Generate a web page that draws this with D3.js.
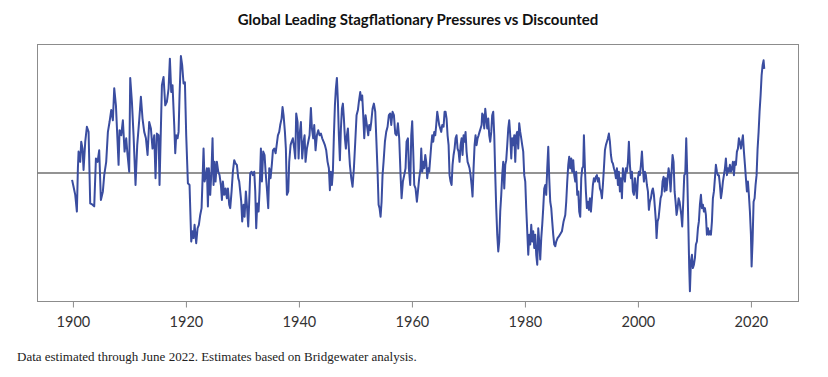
<!DOCTYPE html>
<html>
<head>
<meta charset="utf-8">
<script src="https://cdn.jsdelivr.net/npm/d3@7"></script>
<style>
  body { margin: 0; background: #ffffff; }
  svg { display: block; }
</style>
</head>
<body>
<div id="chart"></div>
<script>
// readings taken off the chart (decimal years, standardised level)
var dates = [
  1899.85,1900.11,1900.41,1900.70,1900.88,1901.00,1901.29,1901.47,1901.70,1901.88,1902.18,1902.47,1902.77,1903.06,1903.47,1903.77,1904.07,1904.36,1904.65,1904.95,
  1905.30,1905.54,1905.89,1906.19,1906.48,1906.78,1907.07,1907.31,1907.61,1907.90,1908.08,1908.25,1908.55,1908.84,1909.14,1909.43,1909.67,1909.96,1910.14,1910.44,
  1910.73,1911.08,1911.38,1911.73,1912.03,1912.32,1912.62,1912.92,1913.21,1913.50,1913.80,1914.09,1914.39,1914.62,1914.86,1915.16,1915.33,
  1915.75,1916.04,1916.34,1916.63,1916.93,1917.16,1917.40,1917.63,1917.93,1918.11,1918.28,1918.52,1918.70,1918.87,1919.11,1919.34,1919.58,1919.82,1920.05,1920.35,
  1920.64,1920.94,1921.17,1921.35,1921.53,1921.82,1922.06,1922.29,1922.53,1922.77,1922.94,1923.12,1923.30,1923.53,1923.71,1923.89,1924.06,1924.30,1924.54,1924.71,
  1924.89,1925.07,1925.24,1925.48,1925.72,1925.95,1926.19,1926.37,1926.54,1926.78,1927.01,1927.25,1927.43,1927.66,1927.84,1928.08,1928.31,1928.55,1928.79,1929.02,
  1929.26,1929.43,1929.61,1929.79,1929.96,1930.20,1930.38,1930.61,1930.79,1931.03,1931.20,1931.38,1931.62,1931.85,1932.09,1932.27,1932.44,1932.62,1932.86,1933.03,
  1933.27,1933.45,1933.68,1933.92,1934.10,1934.33,1934.57,1934.75,1934.98,1935.22,1935.40,1935.63,1935.87,1936.10,1936.28,1936.51,1936.69,1936.93,1937.10,1937.28,
  1937.52,1937.69,1937.87,1938.11,1938.28,1938.52,1938.70,1938.93,1939.17,1939.35,
  1939.52,1939.76,1939.94,1940.11,1940.35,1940.58,1940.82,1941.00,1941.17,1941.41,1941.65,1941.88,1942.12,1942.30,1942.53,1942.71,1942.94,1943.18,1943.42,1943.65,
  1943.89,1944.12,1944.36,1944.60,1944.83,1945.07,1945.30,1945.48,1945.66,1945.84,1946.01,1946.19,1946.37,1946.54,1946.72,1946.90,1947.07,1947.25,1947.43,1947.61,
  1947.78,1947.96,1948.14,1948.31,1948.49,1948.67,1948.84,1949.02,1949.26,1949.49,1949.73,1949.97,1950.20,1950.44,1950.61,1950.85,1951.03,1951.20,1951.38,1951.56,
  1951.79,1952.03,1952.27,1952.44,1952.62,1952.80,1953.03,1953.27,1953.51,1953.74,1953.92,1954.10,1954.27,1954.45,1954.63,1954.80,1954.98,1955.22,1955.45,1955.69,
  1955.92,1956.16,1956.34,1956.57,1956.81,1957.05,1957.28,1957.52,1957.75,1957.99,1958.17,1958.40,1958.64,1958.87,1959.05,1959.29,1959.46,1959.70,1959.88,1960.05,
  1960.23,1960.41,1960.64,1960.88,1961.06,1961.29,1961.53,
  1961.65,1961.82,1962.00,1962.18,1962.36,1962.53,1962.71,1962.89,1963.06,1963.24,1963.42,1963.59,1963.77,1963.95,1964.13,1964.30,1964.48,1964.66,1964.83,1965.01,
  1965.19,1965.36,1965.60,1965.78,1965.95,1966.13,1966.31,1966.49,1966.66,1966.84,1967.02,1967.19,1967.37,1967.55,1967.72,1967.90,1968.08,1968.26,1968.43,1968.61,
  1968.79,1968.96,1969.14,1969.32,1969.49,1969.67,1969.85,1970.03,1970.20,1970.38,1970.56,1970.73,1970.91,1971.09,1971.26,1971.44,1971.62,1971.80,1971.97,1972.15,
  1972.33,1972.44,1972.62,1972.80,1972.98,1973.15,1973.33,1973.51,1973.68,1973.86,1974.04,1974.21,1974.39,1974.57,1974.75,1974.92,1975.10,1975.28,1975.45,1975.63,
  1975.81,1975.98,1976.16,1976.34,1976.52,1976.69,1976.87,1977.05,1977.22,1977.40,1977.58,1977.75,1977.93,1978.11,1978.29,1978.46,1978.64,1978.82,1978.99,1979.17,
  1979.35,1979.52,1979.70,1979.88,1980.06,1980.23,1980.41,1980.59,1980.76,1980.94,1981.12,1981.29,1981.47,1981.65,1981.83,1982.00,1982.18,1982.36,1982.53,1982.71,
  1982.89,1983.06,1983.24,1983.42,1983.60,1983.77,1983.95,1984.13,1984.30,1984.48,1984.66,1984.83,1985.01,1985.19,1985.37,1985.54,1985.78,1986.01,
  1986.55,1986.84,1987.14,1987.31,1987.49,1987.67,1987.84,1988.02,1988.20,1988.37,1988.55,1988.73,1988.91,1989.08,1989.26,1989.44,1989.61,1989.79,1989.97,1990.14,
  1990.32,1990.44,1990.62,1990.79,1990.97,1991.15,1991.32,1991.50,1991.68,1991.86,1992.03,1992.21,1992.39,1992.56,1992.74,1992.92,1993.09,1993.27,1993.45,1993.63,
  1993.80,1993.98,1994.16,1994.33,1994.51,1994.69,1994.86,1995.04,1995.22,1995.40,1995.57,1995.75,1995.93,1996.10,1996.28,1996.46,1996.63,1996.81,1996.99,1997.17,
  1997.34,1997.52,1997.70,1997.87,1998.05,1998.23,1998.40,1998.58,1998.76,1998.94,1999.11,1999.29,1999.47,1999.64,1999.82,2000.00,2000.17,2000.35,2000.53,2000.71,
  2000.88,2001.06,2001.24,2001.41,2001.59,2001.77,2001.94,2002.12,2002.30,2002.48,2002.65,2002.83,2003.01,2003.18,2003.30,2003.48,2003.66,2003.83,2004.01,2004.19,
  2004.36,2004.54,2004.72,2004.89,2005.07,2005.25,2005.43,2005.60,2005.78,2005.96,2006.13,2006.31,2006.49,2006.66,2006.84,2007.02,2007.20,2007.37,
  2007.67,2007.84,2008.02,2008.20,2008.38,2008.55,2008.73,2008.91,2009.08,2009.20,2009.38,2009.56,2009.73,2009.91,2010.09,2010.26,2010.44,2010.62,2010.79,2010.97,
  2011.15,2011.33,2011.50,2011.68,2011.86,2012.03,2012.21,2012.39,2012.56,2012.74,2012.92,2013.10,2013.27,2013.45,2013.63,2013.80,2013.98,2014.16,2014.33,2014.51,
  2014.69,2014.87,2015.04,2015.22,2015.40,2015.57,2015.75,2015.93,2016.10,2016.28,2016.46,2016.64,2016.81,2016.99,2017.17,2017.34,2017.52,2017.70,2017.87,2018.05,
  2018.23,2018.41,2018.58,2018.76,2018.94,2019.11,2019.29,2019.47,2019.64,2019.82,2020.00,2020.12,2020.29,2020.47,2020.65,2020.82,2021.00,2021.18,2021.36,2021.53,
  2021.71,2021.89,2022.06,2022.24,2022.36
];

var values = [
  -0.16,-0.32,-0.51,-0.90,0.11,0.50,0.26,0.73,0.57,0.07,0.73,1.08,0.96,-0.71,-0.74,-0.78,0.34,0.26,0.53,-0.63,
  -0.43,-0.05,0.26,0.96,1.19,1.47,1.23,1.98,1.58,0.73,0.19,1.00,0.88,1.23,0.50,0.81,0.42,0.03,2.22,1.66,
  0.88,-0.28,0.65,1.23,1.78,1.27,0.96,0.81,0.42,1.19,1.04,0.57,0.88,-0.12,0.92,0.88,-0.28,
  2.05,2.24,1.58,1.66,1.97,2.67,1.89,2.05,1.12,0.46,0.88,0.81,0.96,1.81,2.73,2.51,2.09,2.12,0.88,-0.24,
  -0.28,-1.60,-1.36,-1.52,-1.21,-1.64,-1.29,-1.21,-0.98,-0.82,-0.16,0.57,-0.20,-0.05,0.11,-0.78,0.11,-0.51,0.11,0.81,
  -0.28,0.26,-0.20,0.26,0.03,-0.05,-0.28,-0.63,-0.20,-0.51,-0.36,-0.59,-0.36,-0.74,-0.82,-0.43,0.03,0.30,0.22,0.19,
  -0.12,-0.20,-0.43,-0.67,-1.13,-0.74,-1.02,-0.43,-0.74,-1.25,-0.67,-0.01,0.03,-0.05,0.03,-0.43,-1.29,-0.71,-0.90,-0.43,
  0.57,-0.20,0.50,0.42,0.03,-0.36,-0.82,0.11,-0.12,0.22,0.53,0.57,0.46,0.69,0.88,0.96,1.12,1.27,1.54,1.35,
  0.96,0.57,-0.51,-0.43,0.26,0.65,0.73,0.81,0.57,0.34,
  1.39,1.19,0.34,0.88,1.19,0.34,0.73,0.88,0.26,0.57,0.73,0.88,1.52,1.04,0.81,1.12,0.53,0.88,1.00,0.88,
  0.92,0.81,0.73,0.65,0.53,0.26,0.11,-0.40,0.03,-0.28,0.03,0.88,1.58,1.97,2.22,1.66,0.88,0.30,1.04,1.50,
  1.62,1.27,0.81,0.57,0.88,1.04,0.57,0.19,-0.12,-0.32,0.11,0.73,1.35,1.47,1.66,1.89,1.70,1.81,1.35,0.81,
  1.35,1.12,0.88,1.12,1.00,1.19,1.50,1.62,1.43,0.65,0.03,-0.74,-0.82,-1.02,-0.67,-0.05,0.26,0.73,0.96,1.08,
  1.35,1.39,1.12,1.43,1.35,0.92,0.88,1.16,0.81,-0.05,-0.59,-0.20,-0.05,0.11,0.73,0.81,0.11,-0.28,0.88,1.21,
  0.50,-0.28,-0.36,-0.67,-0.43,-0.12,0.11,
  0.57,0.03,0.26,0.11,0.42,0.26,-0.12,0.11,0.03,0.34,0.65,0.88,0.73,0.96,0.88,1.12,1.43,1.27,1.12,1.04,
  0.96,1.12,1.08,1.43,1.43,1.27,0.88,0.65,-0.05,-0.20,-0.28,0.19,0.42,0.57,0.81,0.88,0.57,0.50,0.26,0.65,
  0.81,0.42,0.88,0.73,0.96,0.50,0.26,0.19,0.11,-0.05,-0.28,-0.55,0.11,0.65,0.88,0.65,0.81,0.88,0.96,1.04,
  1.12,1.39,1.35,1.04,1.50,1.27,1.04,1.27,0.88,0.73,0.96,1.35,1.43,0.88,-0.05,-0.82,-1.44,-1.83,-1.60,-0.90,
  -0.51,-0.05,0.26,-0.36,0.19,0.30,0.65,1.04,1.23,0.88,0.34,0.81,0.65,0.88,0.26,0.88,0.96,0.57,1.16,0.96,
  0.81,0.65,0.50,-0.05,-0.20,-0.82,-1.36,-1.91,-1.44,-1.67,-1.21,-1.60,-1.36,-1.75,-1.44,-1.91,-2.14,-1.29,-1.60,-2.02,
  -1.52,-1.21,-0.82,-0.36,-0.28,-0.51,0.11,0.61,-0.12,-0.67,-0.82,-1.13,-1.44,-1.67,-1.71,-1.60,-1.52,-1.48,
  -1.36,-1.13,-0.98,-0.67,-0.20,0.19,0.38,0.11,0.34,0.03,0.30,-0.05,-0.20,0.03,-0.51,-0.43,-0.90,-1.02,-0.12,0.11,
  0.15,0.88,0.11,-0.43,-0.82,-0.67,-0.86,-0.59,-0.90,-0.59,-0.28,-0.12,-0.20,-0.09,-0.05,-0.20,-0.12,-0.36,-0.43,-0.59,
  -0.28,0.11,0.53,0.65,0.73,0.81,0.92,0.73,0.42,0.26,0.22,0.11,0.03,-0.12,0.11,-0.28,0.03,-0.43,-0.12,-0.59,
  0.11,-0.05,-0.20,0.11,0.03,0.26,0.73,0.19,-0.12,0.03,-0.43,-0.51,-0.12,-0.36,-0.59,-0.12,0.03,-0.05,0.19,0.50,
  0.11,-0.20,0.03,-0.05,-0.28,-0.43,-0.86,-0.67,-0.59,-0.43,-0.36,-0.51,-0.82,-1.13,-1.52,-1.13,-1.05,-0.82,-0.59,-0.51,
  -0.20,-0.09,-0.43,-0.12,-0.40,-0.12,0.11,-0.05,-0.43,0.03,0.42,0.26,-0.43,-0.67,-0.98,-0.82,-0.59,-0.67,
  -0.98,-1.25,-0.67,-0.05,-0.01,0.81,-0.05,-1.13,-2.22,-2.76,-2.06,-1.91,-2.22,-2.14,-1.98,-1.67,-1.60,-1.29,-1.13,-0.74,
  -0.51,-0.82,-0.74,-0.90,-0.82,-0.98,-1.44,-1.29,-1.44,-1.36,-1.44,-1.13,-0.59,-0.43,-0.12,0.19,0.03,-0.05,-0.05,-0.28,
  -0.59,-0.43,-0.20,-0.05,0.11,0.34,-0.05,0.11,0.03,0.19,0.03,0.11,0.26,-0.05,0.26,0.19,0.50,0.57,0.81,0.73,
  0.57,0.73,0.88,0.50,0.19,-0.12,-0.43,-0.20,-0.51,-0.90,-1.44,-2.18,-1.60,-0.67,-0.59,-0.28,-0.05,0.57,0.96,1.43,
  1.81,2.28,2.51,2.63,2.43
];

var tickYears = [1900, 1920, 1940, 1960, 1980, 2000, 2020];

var title = "Global Leading Stagflationary Pressures vs Discounted";
var note = "Data estimated through June 2022. Estimates based on Bridgewater analysis.";

var width = 828, height = 377;
var box = { left: 37.5, right: 798.5, top: 44.5, bottom: 301.5 };

var svg = d3.select("#chart").append("svg")
  .attr("width", width)
  .attr("height", height);

// scales
var x = d3.scaleLinear().domain([1893.73, 2028.42]).range([box.left, box.right]);
var y = d3.scaleLinear().domain([-3, 3]).range([box.bottom, box.top]);

// title
svg.append("text")
  .attr("x", 418)
  .attr("y", 25)
  .attr("text-anchor", "middle")
  .style("font-family", "Lato, 'Open Sans', sans-serif")
  .style("font-weight", "bold")
  .style("font-size", "15px")
  .style("fill", "#111")
  .text(title);

// frame
svg.append("rect")
  .attr("x", box.left)
  .attr("y", box.top)
  .attr("width", box.right - box.left)
  .attr("height", box.bottom - box.top)
  .attr("fill", "none")
  .attr("stroke", "#8c8c8c")
  .attr("stroke-width", 1);

// x axis, ticks hanging below the frame
var xAxis = svg.append("g")
  .attr("transform", "translate(0," + box.bottom + ")")
  .call(d3.axisBottom(x).tickValues(tickYears).tickFormat(d3.format("d")).tickSize(6).tickPadding(9));
xAxis.select(".domain").remove();
xAxis.selectAll("line").attr("stroke", "#8c8c8c");
xAxis.selectAll("text")
  .style("font-family", "Lato, 'Open Sans', sans-serif")
  .style("font-size", "14.5px")
  .style("fill", "#333");

// zero line
svg.append("line")
  .attr("x1", box.left)
  .attr("x2", box.right)
  .attr("y1", y(0))
  .attr("y2", y(0))
  .attr("stroke", "#6f6f6f")
  .attr("stroke-width", 1.5);

// the series
var points = dates.map(function (d, i) { return [d, values[i]]; });
var line = d3.line()
  .x(function (d) { return x(d[0]); })
  .y(function (d) { return y(d[1]); });

svg.append("path")
  .datum(points)
  .attr("d", line)
  .attr("fill", "none")
  .attr("stroke", "#3a4da0")
  .attr("stroke-width", 2)
  .attr("stroke-linejoin", "round");

// footnote
svg.append("text")
  .attr("x", 17)
  .attr("y", 361)
  .style("font-family", "'Liberation Serif', 'DejaVu Serif', serif")
  .style("font-size", "13px")
  .style("fill", "#222")
  .text(note);
</script>
</body>
</html>
